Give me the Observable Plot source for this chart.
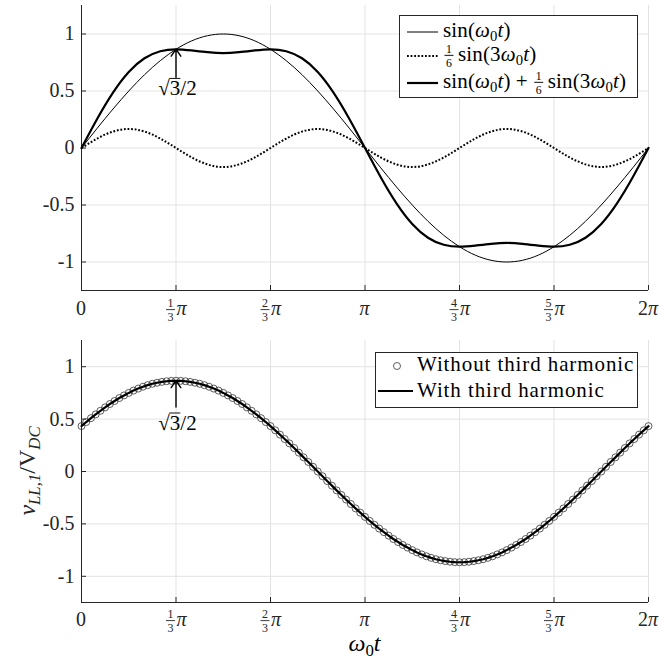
<!DOCTYPE html>
<html><head><meta charset="utf-8">
<script src="https://cdn.jsdelivr.net/npm/d3@7"></script>
<script src="https://cdn.jsdelivr.net/npm/@observablehq/plot@0.6"></script>
<style>
body{margin:0;background:#fff;}
#wrap{position:relative;width:659px;height:659px;overflow:hidden;}
#top,#bottom{position:absolute;left:0;}
#top{top:0;} #bottom{top:330px;}
svg, svg text{font-family:"Liberation Serif",serif !important;}
</style></head><body>
<div id="wrap"><div id="top"></div><div id="bottom"></div></div>
<script>
// ---- data (angle in degrees of ω0t) ----
const theta = [0,10,20,30,40,50,60,70,80,90,100,110,120,130,140,150,160,170,180,190,200,210,220,230,240,250,260,270,280,290,300,310,320,330,340,350,360];
const sinVals = [0,.174,.342,.5,.643,.766,.866,.940,.985,1,.985,.940,.866,.766,.643,.5,.342,.174,0,-.174,-.342,-.5,-.643,-.766,-.866,-.940,-.985,-1,-.985,-.940,-.866,-.766,-.643,-.5,-.342,-.174,0];
const thirdVals = [0,.083,.144,.167,.144,.083,0,-.083,-.144,-.167,-.144,-.083,0,.083,.144,.167,.144,.083,0,-.083,-.144,-.167,-.144,-.083,0,.083,.144,.167,.144,.083,0,-.083,-.144,-.167,-.144,-.083,0];
const sumVals = [0,.257,.486,.667,.787,.849,.866,.856,.841,.833,.841,.856,.866,.849,.787,.667,.486,.257,0,-.257,-.486,-.667,-.787,-.849,-.866,-.856,-.841,-.833,-.841,-.856,-.866,-.849,-.787,-.667,-.486,-.257,0];

const thetaFine = [0,3,6,9,12,15,18,21,24,27,30,33,36,39,42,45,48,51,54,57,60,63,66,69,72,75,78,81,84,87,90,93,96,99,102,105,108,111,114,117,120,123,126,129,132,135,138,141,144,147,150,153,156,159,162,165,168,171,174,177,180,183,186,189,192,195,198,201,204,207,210,213,216,219,222,225,228,231,234,237,240,243,246,249,252,255,258,261,264,267,270,273,276,279,282,285,288,291,294,297,300,303,306,309,312,315,318,321,324,327,330,333,336,339,342,345,348,351,354,357,360];
const vllWithout = [.433,.472,.509,.545,.579,.612,.644,.673,.701,.726,.750,.772,.791,.809,.824,.837,.847,.855,.861,.865,.866,.865,.861,.855,.847,.837,.824,.809,.791,.772,.750,.726,.701,.673,.644,.612,.579,.545,.509,.472,.433,.393,.352,.310,.268,.224,.180,.135,.091,.045,0,-.045,-.091,-.135,-.180,-.224,-.268,-.310,-.352,-.393,-.433,-.472,-.509,-.545,-.579,-.612,-.644,-.673,-.701,-.726,-.750,-.772,-.791,-.809,-.824,-.837,-.847,-.855,-.861,-.865,-.866,-.865,-.861,-.855,-.847,-.837,-.824,-.809,-.791,-.772,-.750,-.726,-.701,-.673,-.644,-.612,-.579,-.545,-.509,-.472,-.433,-.393,-.352,-.310,-.268,-.224,-.180,-.135,-.091,-.045,0,.045,.091,.135,.180,.224,.268,.310,.352,.393,.433];
const vllWith = vllWithout.slice();

const xTickValues = [0,60,120,180,240,300,360];
const xTickLabels = ["0","1/3π","2/3π","π","4/3π","5/3π","2π"];
const yTickValues = [-1,-0.5,0,0.5,1];
const yTickLabels = ["-1","-0.5","0","0.5","1"];

const arrowX = [60];
const arrowHeadY = [0.866];
const arrowTailTop = [0.62];
const arrowTailBottom = [0.615];
const annLabelTop = [0.52];
const annLabelBottom = [0.46];

const AX = "#262626", GRID = "#e3e3e3";
const FONT = "'Liberation Serif',serif";

// ---- math text helper ----
function mathText(parent, x, y, tokens, fs, opts = {}) {
  const anchor = opts.anchor || "start", fill = opts.fill || "#000", ls = opts.ls || 0;
  const fr = opts.frac || 0.6;
  const g = parent.append("g").attr("fill", fill).attr("text-anchor", "start");
  let cx = 0;
  for (const tk of tokens) {
    if (tk.gap) { cx += tk.gap; continue; }
    if (tk.frac) {
      const sf = fs * fr;
      const n = g.append("text").style("font-family", FONT).attr("font-size", sf).attr("text-anchor", "middle").attr("y", y - fs * 0.38).text(tk.frac[0]);
      const d = g.append("text").style("font-family", FONT).attr("font-size", sf).attr("text-anchor", "middle").attr("y", y + fs * 0.30).text(tk.frac[1]);
      const w = Math.max(n.node().getComputedTextLength(), d.node().getComputedTextLength()) + fs * 0.15;
      const pad = fs * 0.07;
      n.attr("x", cx + pad + w / 2); d.attr("x", cx + pad + w / 2);
      g.append("line").attr("x1", cx + pad).attr("x2", cx + pad + w)
        .attr("y1", y - fs * 0.27).attr("y2", y - fs * 0.27)
        .attr("stroke", fill).attr("stroke-width", Math.max(0.8, fs * 0.045));
      cx += w + 2 * pad;
    } else {
      const size = tk.sub ? fs * 0.7 : fs;
      const t = g.append("text").style("font-family", FONT).attr("text-anchor", "start").attr("x", cx)
        .attr("y", y + (tk.sub ? fs * 0.2 : 0)).attr("font-size", size).text(tk.t);
      if (ls) t.attr("letter-spacing", ls);
      if (tk.it) t.attr("font-style", "italic");
      const w = t.node().getComputedTextLength();
      if (tk.over) g.append("line").attr("x1", cx - 0.5).attr("x2", cx + w).attr("y1", y - fs * 0.80).attr("y2", y - fs * 0.80)
        .attr("stroke", fill).attr("stroke-width", Math.max(0.8, fs * 0.045));
      cx += w + (tk.sp || 0);
    }
  }
  const shift = anchor === "middle" ? -cx / 2 : anchor === "end" ? -cx : 0;
  g.attr("transform", `translate(${x + shift},0)`);
  return g;
}

function tickTokens(lbl) {
  if (lbl.includes("/")) {
    const [num, rest] = lbl.split("/");
    return [{frac: [num, rest[0]]}, {t: rest.slice(1), it: 1}];
  }
  if (lbl.endsWith("π")) {
    const head = lbl.slice(0, -1);
    return head ? [{t: head}, {t: "π", it: 1}] : [{t: "π", it: 1}];
  }
  return [{t: lbl}];
}

function baseMarks() {
  return [
    Plot.gridX(xTickValues, {stroke: GRID, strokeOpacity: 1}),
    Plot.gridY(yTickValues, {stroke: GRID, strokeOpacity: 1}),
    Plot.axisY(yTickValues, {tickSize: 0, tickPadding: 7, fontSize: 20, fill: AX, label: null,
      tickFormat: d => yTickLabels[yTickValues.indexOf(d)]}),
    Plot.axisY(yTickValues, {tickSize: -5, stroke: AX, tickFormat: () => "", label: null}),
    Plot.axisX(xTickValues, {tickSize: -5, stroke: AX, tickFormat: () => "", label: null}),
    Plot.ruleX([0], {stroke: AX}),
    Plot.ruleY([-1.25], {stroke: AX})
  ];
}

function drawXTickLabels(plot, baseline) {
  const svg = d3.select(plot);
  const xs = plot.scale("x");
  const g = svg.append("g");
  xTickValues.forEach((v, i) => {
    mathText(g, xs.apply(v), baseline, tickTokens(xTickLabels[i]), 20, {anchor: "middle", fill: AX});
  });
  return svg;
}

const sinTokens = [{t: "sin("}, {t: "ω", it: 1}, {t: "0", sub: 1}, {t: "t", it: 1}, {t: ")"}];
const sin3Tokens = [{frac: ["1", "6"]}, {gap: 3}, {t: "sin(3"}, {t: "ω", it: 1}, {t: "0", sub: 1}, {t: "t", it: 1}, {t: ")"}];
const dotted = "1.8,1.8";

// ---- top plot ----
const topPlot = Plot.plot({
  width: 659, height: 330, marginLeft: 81, marginRight: 11, marginTop: 5, marginBottom: 40,
  x: {domain: [0, 360]}, y: {domain: [-1.25, 1.25]},
  style: {fontFamily: FONT, fontSize: "20px", color: AX, background: "white"},
  marks: [
    ...baseMarks(),
    Plot.lineY(sinVals, {x: theta, y: sinVals, curve: "natural", stroke: "black", strokeWidth: 1}),
    Plot.lineY(thirdVals, {x: theta, y: thirdVals, curve: "natural", stroke: "black", strokeWidth: 2, strokeDasharray: dotted, strokeLinecap: "butt"}),
    Plot.lineY(sumVals, {x: theta, y: sumVals, curve: "natural", stroke: "black", strokeWidth: 2.2}),
    Plot.arrow(arrowX, {x1: arrowX, x2: arrowX, y1: arrowTailTop, y2: arrowHeadY, stroke: "black", strokeWidth: 1.4, headLength: 9, headAngle: 70})
  ]
});
document.getElementById("top").appendChild(topPlot);
{
  const svg = drawXTickLabels(topPlot, 315);
  const xs = topPlot.scale("x"), ys = topPlot.scale("y");
  mathText(svg, xs.apply(arrowX[0]) + 2, ys.apply(annLabelTop[0]) + 7, [{t: "√"}, {t: "3", over: 1}, {t: "/2"}], 21, {anchor: "middle"});
  // legend
  const lg = svg.append("g");
  lg.append("rect").attr("x", 399.5).attr("y", 15.5).attr("width", 238).attr("height", 82).attr("fill", "white").attr("stroke", AX).attr("stroke-width", 1);
  const rows = [
    {y: 32, dash: null, w: 1, tokens: sinTokens},
    {y: 56, dash: dotted, w: 2, tokens: sin3Tokens},
    {y: 83, dash: null, w: 2.2, tokens: [...sinTokens, {gap: 5}, {t: "+"}, {gap: 5}, ...sin3Tokens]}
  ];
  rows.forEach(r => {
    lg.append("line").attr("x1", 407).attr("x2", 438).attr("y1", r.y).attr("y2", r.y)
      .attr("stroke", "black").attr("stroke-width", r.w).attr("stroke-dasharray", r.dash);
    mathText(lg, 443, r.y + 5, r.tokens, 21, {ls: 0.15, frac: 0.56});
  });
}

// ---- bottom plot ----
const botPlot = Plot.plot({
  width: 659, height: 329, marginLeft: 81, marginRight: 11, marginTop: 10, marginBottom: 57,
  x: {domain: [0, 360]}, y: {domain: [-1.25, 1.25]},
  style: {fontFamily: FONT, fontSize: "20px", color: AX, background: "white"},
  marks: [
    ...baseMarks(),
    Plot.dot(vllWithout, {x: thetaFine, y: vllWithout, r: 3.5, stroke: "#333", strokeWidth: 0.8, fill: "none"}),
    Plot.lineY(vllWith, {x: thetaFine, y: vllWith, stroke: "black", strokeWidth: 2.2}),
    Plot.arrow(arrowX, {x1: arrowX, x2: arrowX, y1: arrowTailBottom, y2: arrowHeadY, stroke: "black", strokeWidth: 1.4, headLength: 9, headAngle: 70})
  ]
});
document.getElementById("bottom").appendChild(botPlot);
{
  const svg = drawXTickLabels(botPlot, 296);
  const xs = botPlot.scale("x"), ys = botPlot.scale("y");
  mathText(svg, xs.apply(arrowX[0]) + 2, ys.apply(annLabelBottom[0]) + 7, [{t: "√"}, {t: "3", over: 1}, {t: "/2"}], 21, {anchor: "middle"});
  // x label
  mathText(svg, xs.apply(180), 321, [{t: "ω", it: 1}, {t: "0", sub: 1}, {t: "t", it: 1}], 24, {anchor: "middle"});
  // y label
  const yl = svg.append("g").attr("transform", `translate(35,${ys.apply(0)}) rotate(-90)`);
  mathText(yl, 0, 0, [{t: "v", it: 1}, {t: "LL,1", sub: 1, it: 1}, {t: "/V"}, {t: "DC", sub: 1, it: 1}], 24, {anchor: "middle", fill: AX});
  // legend
  const lg = svg.append("g");
  lg.append("rect").attr("x", 375.5).attr("y", 22.5).attr("width", 262).attr("height", 55).attr("fill", "white").attr("stroke", AX).attr("stroke-width", 1);
  lg.append("circle").attr("cx", 397).attr("cy", 36).attr("r", 3.5).attr("fill", "none").attr("stroke", "#333").attr("stroke-width", 0.8);
  mathText(lg, 417, 41, [{t: "Without third harmonic"}], 21, {ls: 0.9});
  lg.append("line").attr("x1", 378).attr("x2", 413).attr("y1", 61).attr("y2", 61).attr("stroke", "black").attr("stroke-width", 2.2);
  mathText(lg, 417, 67, [{t: "With third harmonic"}], 21, {ls: 0.9});
}
</script>
</body></html>
